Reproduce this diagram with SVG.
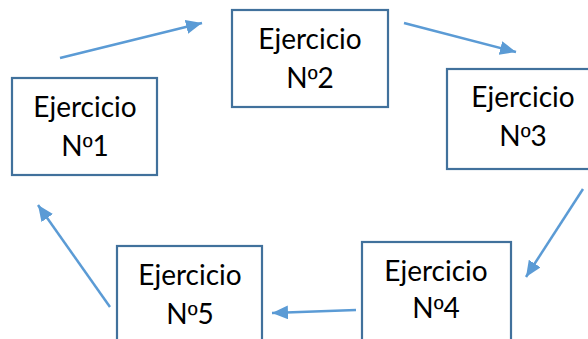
<svg xmlns="http://www.w3.org/2000/svg" width="588" height="339" viewBox="0 0 588 339">
<style>
.box{fill:#ffffff;stroke:#41719C;stroke-width:2.2}
.t{font-family:Lato,"Open Sans","Liberation Sans",sans-serif;font-size:28px;fill:#000000;text-anchor:middle}
.o{font-family:"Liberation Sans",Arial,sans-serif;font-size:27px}
.c{fill:none;stroke:#5B9BD5;stroke-width:2.5;marker-end:url(#ah)}
</style>
<defs>
<marker id="ah" markerUnits="userSpaceOnUse" markerWidth="18" markerHeight="16" refX="16" refY="7" orient="auto">
<path d="M0,0 L16,7 L0,14 Z" fill="#5B9BD5"/>
</marker>
</defs>
<rect width="588" height="339" fill="#ffffff"/>
<g id="connectors">
<line class="c" x1="60" y1="58" x2="202" y2="23"/>
<line class="c" x1="404" y1="23" x2="516" y2="52"/>
<line class="c" x1="583" y1="189" x2="526" y2="277"/>
<line class="c" x1="356" y1="310" x2="272" y2="313"/>
<line class="c" x1="110" y1="307" x2="38" y2="205"/>
</g>
<g id="n1">
<rect class="box" x="12" y="78" width="145" height="97"/>
<text class="t" x="85" y="117">Ejercicio</text>
<text class="t" x="85" y="156">N<tspan class="o">º</tspan>1</text>
</g>
<g id="n2">
<rect class="box" x="232" y="10" width="156" height="97"/>
<text class="t" x="310" y="49">Ejercicio</text>
<text class="t" x="310" y="88">N<tspan class="o">º</tspan>2</text>
</g>
<g id="n3">
<rect class="box" x="447" y="69" width="152" height="100"/>
<text class="t" x="523" y="107">Ejercicio</text>
<text class="t" x="523" y="146">N<tspan class="o">º</tspan>3</text>
</g>
<g id="n4">
<rect class="box" x="362" y="242" width="149" height="110"/>
<text class="t" x="436" y="281">Ejercicio</text>
<text class="t" x="436" y="318">N<tspan class="o">º</tspan>4</text>
</g>
<g id="n5">
<rect class="box" x="117" y="246" width="145" height="110"/>
<text class="t" x="190" y="285">Ejercicio</text>
<text class="t" x="190" y="324">N<tspan class="o">º</tspan>5</text>
</g>
</svg>
